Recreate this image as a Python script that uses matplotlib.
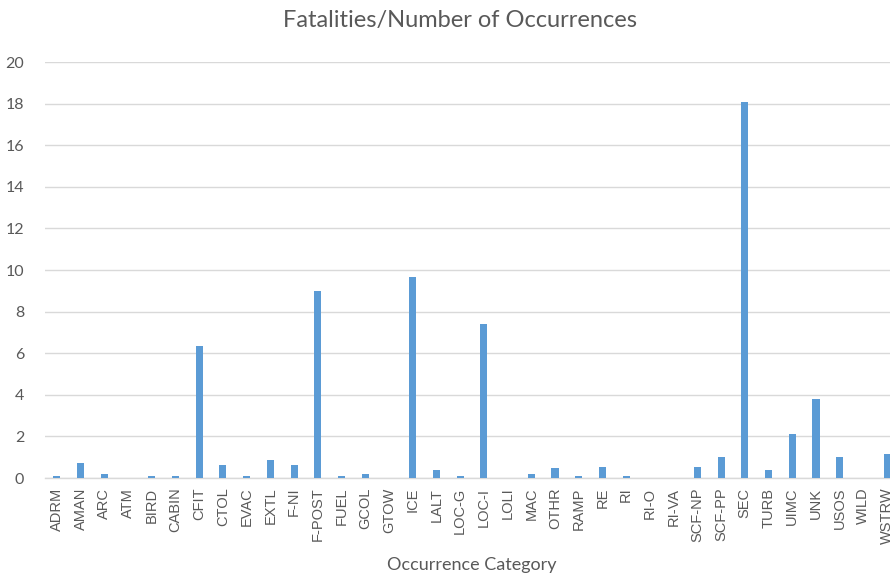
import matplotlib.pyplot as plt
import numpy as np

categories = ["ADRM", "AMAN", "ARC", "ATM", "BIRD", "CABIN", "CFIT", "CTOL", "EVAC",
              "EXTL", "F-NI", "F-POST", "FUEL", "GCOL", "GTOW", "ICE", "LALT", "LOC-G",
              "LOC-I", "LOLI", "MAC", "OTHR", "RAMP", "RE", "RI", "RI-O", "RI-VA",
              "SCF-NP", "SCF-PP", "SEC", "TURB", "UIMC", "UNK", "USOS", "WILD", "WSTRW"]
ratio = [0.1, 0.7, 0.18, 0.0, 0.1, 0.1, 6.35, 0.61, 0.1,
         0.85, 0.61, 9.0, 0.1, 0.18, 0.0, 9.68, 0.4, 0.1,
         7.4, 0.0, 0.18, 0.47, 0.1, 0.54, 0.1, 0.0, 0.0,
         0.54, 1.0, 18.1, 0.4, 2.13, 3.8, 1.0, 0.0, 1.15]
yticks = np.arange(0, 21, 2)

plt.rcParams['font.family'] = ['Lato', 'DejaVu Sans']
text_col = '#595959'
grid_col = '#D9D9D9'

fig = plt.figure(figsize=(8.9, 5.75), dpi=100)
ax = fig.add_axes([45 / 890, 1 - 478 / 575, 854 / 890, 416 / 575])

x = np.arange(len(categories))
ax.bar(x, ratio, width=0.3, color='#5B9BD5', zorder=3)

ax.set_xlim(-0.5, len(categories) - 0.5)
ax.set_ylim(0, 20)
ax.set_yticks(yticks)
ax.set_xticks(x)
ax.set_xticklabels(categories, rotation=90, fontsize=10.5, color=text_col,
                   family=['Liberation Sans', 'DejaVu Sans'])
ax.tick_params(axis='y', length=0, pad=15, labelsize=11.5, labelcolor=text_col)
ax.tick_params(axis='x', length=0, pad=7)

# Light horizontal gridlines, no frame except the baseline
ax.grid(axis='y', color=grid_col, linewidth=1, zorder=0)
for side in ['top', 'right', 'left']:
    ax.spines[side].set_visible(False)
ax.spines['bottom'].set_color(grid_col)
ax.spines['bottom'].set_linewidth(1)

fig.text(460 / 890, 1 - 21 / 575, 'Fatalities/Number of Occurrences', ha='center', va='center',
         fontsize=17, color=text_col)
fig.text(472 / 890, 1 - 565 / 575, 'Occurrence Category', ha='center', va='center',
         fontsize=13, color=text_col)

plt.savefig('out.png', dpi=100)
